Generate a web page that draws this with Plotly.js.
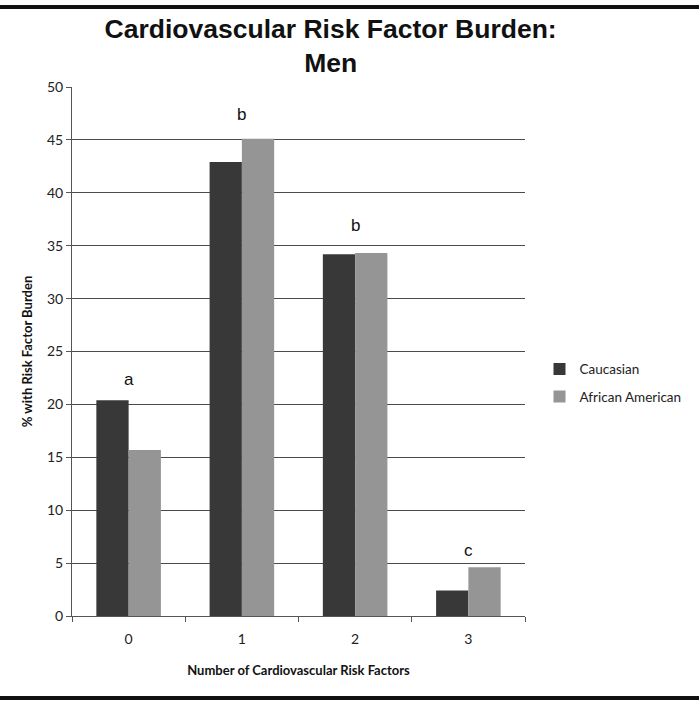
<!DOCTYPE html>
<html>
<head>
<meta charset="utf-8">
<script src="https://cdn.plot.ly/plotly-3.0.1.min.js"></script>
<style>
html,body{margin:0;padding:0;background:#fff;}
#wrap{position:relative;width:699px;height:704px;}
#chart{width:699px;height:704px;}
.rule{position:absolute;left:0;width:699px;height:4px;background:#111;}
</style>
</head>
<body>
<div id="wrap">
<div id="chart"></div>
<div class="rule" style="top:5px"></div>
<div class="rule" style="top:696px"></div>
</div>
<script>
const categories = ['0', '1', '2', '3'];
const caucasian = [20.4, 42.9, 34.2, 2.4];
const africanAmerican = [15.7, 45.1, 34.3, 4.6];
const sigLetters = ['a', 'b', 'b', 'c'];
const sigLetterY = [22.4, 47.4, 36.9, 6.2];
const yTicks = [0, 5, 10, 15, 20, 25, 30, 35, 40, 45, 50];

const font = 'Lato, "Open Sans", sans-serif';

const traces = [
  {type: 'bar', name: 'Caucasian', x: categories, y: caucasian, legendgroup: 'g1',
   marker: {color: '#383838'}},
  {type: 'bar', name: 'African American', x: categories, y: africanAmerican, legendgroup: 'g2',
   marker: {color: '#959595'}}
];

const annotations = categories.map((c, i) => ({
  x: c, y: sigLetterY[i], xref: 'x', yref: 'y', text: sigLetters[i],
  showarrow: false, font: {family: 'Liberation Sans, Arial, sans-serif', size: 17, color: '#111'}
}));

const layout = {
  width: 699, height: 704,
  margin: {l: 72, r: 151, t: 87, b: 88},
  paper_bgcolor: '#fff', plot_bgcolor: '#fff',
  barmode: 'group', bargap: 0.43, bargroupgap: 0,
  title: {
    text: 'Cardiovascular Risk Factor Burden:<br>Men',
    font: {family: '"Liberation Sans Narrow", "Arial Narrow", "Liberation Sans", sans-serif', size: 26.5, color: '#111', weight: 'bold'},
    xref: 'paper', x: 0.571, xanchor: 'center', yref: 'container', y: 0.946, yanchor: 'top'
  },
  xaxis: {
    type: 'category',
    tickson: 'boundaries', ticks: 'outside', ticklen: 5, tickcolor: '#555',
    ticklabelstandoff: 10,
    showline: true, linecolor: '#555', linewidth: 1,
    showgrid: false,
    tickfont: {family: font, size: 14, color: '#222'},
    title: {text: 'Number of Cardiovascular Risk Factors', standoff: 20,
            font: {family: font, size: 13, color: '#111', weight: 'bold'}}
  },
  yaxis: {
    range: [0, 50], tickvals: yTicks,
    ticks: 'outside', ticklen: 5, tickcolor: '#555',
    showline: true, linecolor: '#555', linewidth: 1,
    showgrid: true, gridcolor: '#4a4a4a', gridwidth: 1,
    zeroline: false,
    tickfont: {family: font, size: 14, color: '#222'},
    title: {text: '% with Risk Factor Burden', standoff: 11,
            font: {family: font, size: 13, color: '#111', weight: 'bold'}}
  },
  legend: {
    x: 1.032, xanchor: 'left', y: 0.44, yanchor: 'middle',
    font: {family: font, size: 13.5, color: '#222'},
    itemwidth: 30, tracegroupgap: 7, bgcolor: 'rgba(0,0,0,0)'
  },
  annotations: annotations,
  showlegend: true
};

Plotly.newPlot('chart', traces, layout, {displayModeBar: false, staticPlot: true});
</script>
</body>
</html>
